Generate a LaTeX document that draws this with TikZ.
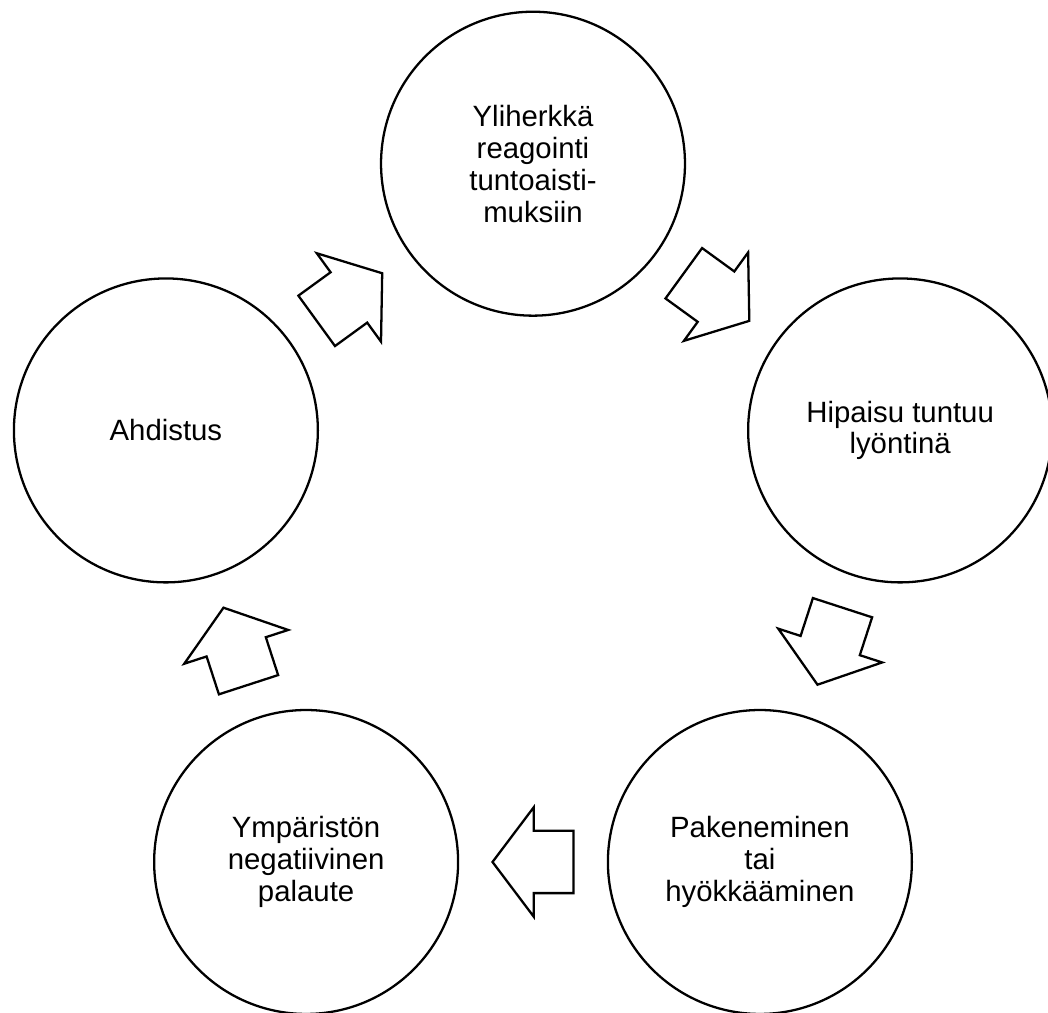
\documentclass[tikz,border=0pt]{standalone}
\usepackage{fontspec}
\setmainfont{Liberation Sans}
\usetikzlibrary{shapes.arrows,calc}

\begin{document}
\begin{tikzpicture}[
    stage/.style={draw=black, circle, minimum size=6.08cm, inner sep=0pt, line width=1.3pt,
                  align=center, font=\fontsize{16.7}{18.2}\selectfont},
    turn/.style={draw=black, single arrow, single arrow head extend=0.47cm,
                 single arrow tip angle=106, minimum height=1.62cm,
                 inner xsep=0pt, inner ysep=0.6cm, outer sep=0pt, line width=1.3pt},
    x=0.02cm, y=0.02cm
]

\def\R{386}      % distance of the stages from the middle

% ── Frame ────────────────────────────────────────────────────────────────────
\useasboundingbox (0,0) rectangle (1048,1012);
\clip (0,0) rectangle (1048,1012);

\coordinate (mid) at (533,462.3);

% ── Stages of the cycle ──────────────────────────────────────────────────────
\foreach \a/\n/\t in {90/s1/{Yliherkkä\\reagointi\\tuntoaisti-\\muksiin},
                      18/s2/{Hipaisu tuntuu\\lyöntinä},
                      -54/s3/{Pakeneminen\\tai\\hyökkääminen},
                      -126/s4/{Ympäristön\\negatiivinen\\palaute},
                      162/s5/{Ahdistus}} {
    \node[stage] (\n) at ($(mid)+(\a:\R)$) {\t};
}

% ── Block arrows between neighbours (tip half a length past the midpoint) ───
\foreach \p/\q/\a in {s1/s2/54, s2/s3/-18, s3/s4/-90, s4/s5/-162, s5/s1/126} {
    \coordinate (m\p) at ($(\p)!0.5!(\q)$);
    \node[turn, rotate=\a-90, anchor=tip] (\p\q) at ($(m\p)!0.81cm!(\q)$) {};
}

\end{tikzpicture}
\end{document}
